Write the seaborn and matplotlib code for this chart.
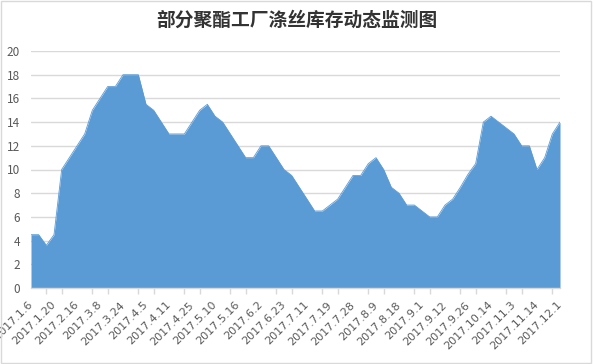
import numpy as np
import pandas as pd
import matplotlib
matplotlib.use('Agg')
import matplotlib.pyplot as plt
import seaborn as sns
from matplotlib.patches import Rectangle

stock = [4.5, 4.5, 3.6, 4.5, 10, 11, 12, 13, 15, 16,
         17, 17, 18, 18, 18, 15.5, 15, 14, 13, 13,
         13, 14, 15, 15.5, 14.5, 14, 13, 12, 11, 11,
         12, 12, 11, 10, 9.5, 8.5, 7.5, 6.5, 6.5, 7,
         7.5, 8.5, 9.5, 9.5, 10.5, 11, 10, 8.5, 8, 7,
         7, 6.5, 6, 6, 7, 7.5, 8.5, 9.6, 10.5, 14,
         14.5, 14, 13.5, 13, 12, 12, 10, 11, 13, 14]

# Labels shown on the x axis (every third observation)
date_labels = ['2017.1.6', '2017.1.20', '2017.2.16', '2017.3.8', '2017.3.24',
               '2017.4.5', '2017.4.11', '2017.4.25', '2017.5.10', '2017.5.16',
               '2017.6.2', '2017.6.23', '2017.7.11', '2017.7.19', '2017.7.28',
               '2017.8.9', '2017.8.18', '2017.9.1', '2017.9.12', '2017.9.26',
               '2017.10.14', '2017.11.3', '2017.11.14', '2017.12.1']
label_step = 3
tick_step = 2

title = '部分聚酯工厂涤丝库存动态监测图'

sns.set_theme(style='white')
plt.rcParams['font.family'] = ['Noto Sans CJK SC', 'DejaVu Sans']

df = pd.DataFrame({'idx': np.arange(len(stock)), 'stock': stock})

fig = plt.figure(figsize=(5.94, 3.64), dpi=100)
ax = fig.add_axes([31 / 594, 1 - 288 / 364, 529 / 594, 237 / 364])

blue = '#5B9BD5'
ax.fill_between(df['idx'], 0, df['stock'], color=blue, linewidth=0, zorder=2)
sns.lineplot(data=df, x='idx', y='stock', color=blue, linewidth=0.6, ax=ax, zorder=3)

ax.set_xlim(0, len(stock) - 1)
ax.set_ylim(0, 20)
ax.set_yticks(np.arange(0, 21, 2))
ax.yaxis.grid(True, color='#D9D9D9', linewidth=1)
ax.set_axisbelow(True)

ax.set_xticks(np.arange(0, len(stock), label_step))
ax.set_xticklabels(date_labels, rotation=45, ha='right', va='center',
                   rotation_mode='anchor', fontsize=8, color='#595959',
                   family='DejaVu Sans')
ax.set_xticks(np.arange(0, len(stock), tick_step), minor=True)
ax.tick_params(axis='x', which='major', length=0, pad=11)
ax.tick_params(axis='x', which='minor', length=4.5, width=1, color='#D9D9D9',
               direction='out', bottom=True)
ax.tick_params(axis='y', length=0, pad=8, labelsize=8.5, labelcolor='#595959')

for s in ['top', 'right', 'left']:
    ax.spines[s].set_visible(False)
ax.spines['bottom'].set_color('#D9D9D9')
ax.spines['bottom'].set_linewidth(1)
ax.spines['bottom'].set_zorder(4)

ax.set_xlabel('')
ax.set_ylabel('')

fig.text(0.5, 1 - 20 / 364, title, ha='center', va='center', fontsize=13.5,
         fontweight='bold', color='#333333')

fig.patches.append(Rectangle((0.002, 0.003), 0.993, 0.994, transform=fig.transFigure,
                             fill=False, edgecolor='#D9D9D9', linewidth=1))

fig.savefig('out.png', dpi=100)
